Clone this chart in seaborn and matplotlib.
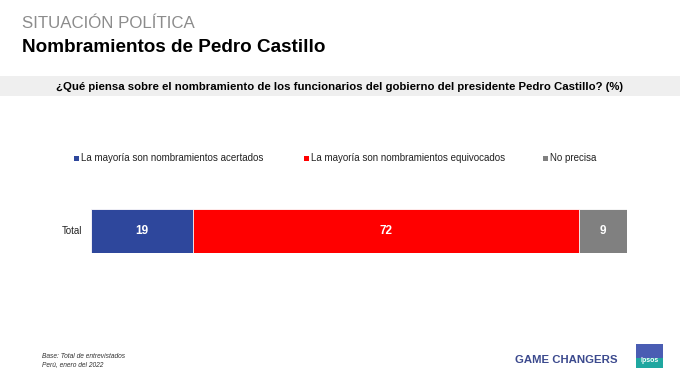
import matplotlib
matplotlib.use("Agg")
import matplotlib.pyplot as plt
import seaborn as sns
import pandas as pd
from matplotlib.patches import Rectangle

# datos
categorias = ["La mayoría son nombramientos acertados",
              "La mayoría son nombramientos equivocados",
              "No precisa"]
valores = [19, 72, 9]
fila = ["Total"]
colores = ["#2E479C", "#FF0000", "#808080"]

sns.set_theme(style="white")
plt.rcParams["font.family"] = ["Liberation Sans", "DejaVu Sans"]

W, H = 680, 383
fig = plt.figure(figsize=(W / 100, H / 100), dpi=100)
fig.patch.set_facecolor("white")


def fx(px):
    return px / W


def fy(py):
    return 1 - py / H


# cabecera
fig.text(fx(22), fy(23), "SITUACIÓN POLÍTICA", fontsize=12.2, color="#8C8C8C",
         va="center", ha="left")
fig.text(fx(22), fy(48), "Nombramientos de Pedro Castillo", fontsize=13.6,
         fontweight="bold", color="black", va="center", ha="left")

# banda gris de la pregunta
fig.patches.append(Rectangle((0, fy(96)), 1, (96 - 76) / H, transform=fig.transFigure,
                             facecolor="#EFEFEF", edgecolor="none", zorder=0))
fig.text(fx(340), fy(86.5),
         "¿Qué piensa sobre el nombramiento de los funcionarios del gobierno del presidente Pedro Castillo? (%)",
         fontsize=8.2, fontweight="bold", color="black", va="center", ha="center")

# leyenda manual
leg_x = [74, 304, 543]
for x, cat, col in zip(leg_x, categorias, colores):
    fig.patches.append(Rectangle((fx(x), fy(161)), 5 / W, 5 / H, transform=fig.transFigure,
                                 facecolor=col, edgecolor="none"))
    fig.text(fx(x + 7), fy(158), cat, fontsize=7, color="#222222", va="center", ha="left")

# barra apilada
ax = fig.add_axes([fx(91), fy(253), (627 - 91) / W, (253 - 209) / H])
acum = pd.Series(valores).cumsum().tolist()
for cat, tot, col in reversed(list(zip(categorias, acum, colores))):
    df = pd.DataFrame({"fila": fila, "valor": [tot]})
    sns.barplot(data=df, x="valor", y="fila", color=col, width=1, orient="h",
                saturation=1, edgecolor="white", linewidth=0.6, ax=ax)

for v, tot in zip(valores, acum):
    ax.text(tot - v / 2, 0, f"{v}", color="white", fontsize=8.5, fontweight="bold",
            ha="center", va="center")

ax.set_xlim(0, 100)
ax.set_ylim(0.5, -0.5)
ax.set_xlabel("")
ax.set_ylabel("")
ax.set_xticks([])
ax.set_yticks([])
sns.despine(ax=ax, left=True, bottom=True)
fig.text(fx(82), fy(231), fila[0], fontsize=7, color="#222222", ha="right", va="center")

# pie
fig.text(fx(42), fy(357), "Base: Total de entrevistados", fontsize=4.8, style="italic",
         color="#333333", va="center", ha="left")
fig.text(fx(42), fy(365), "Perú, enero del 2022", fontsize=4.8, style="italic",
         color="#333333", va="center", ha="left")
fig.text(fx(618), fy(360), "GAME CHANGERS", fontsize=8.2, fontweight="bold",
         color="#3C4A8E", va="center", ha="right")
fig.patches.append(Rectangle((fx(636), fy(368)), 27 / W, 24 / H, transform=fig.transFigure,
                             facecolor="#1FA7A0", edgecolor="none"))
fig.patches.append(Rectangle((fx(636), fy(358)), 27 / W, 14 / H, transform=fig.transFigure,
                             facecolor="#4A5DB3", edgecolor="none"))
fig.text(fx(649.5), fy(361), "Ipsos", fontsize=5, color="white", fontweight="bold",
         va="center", ha="center")

fig.savefig("out.png", dpi=100)
